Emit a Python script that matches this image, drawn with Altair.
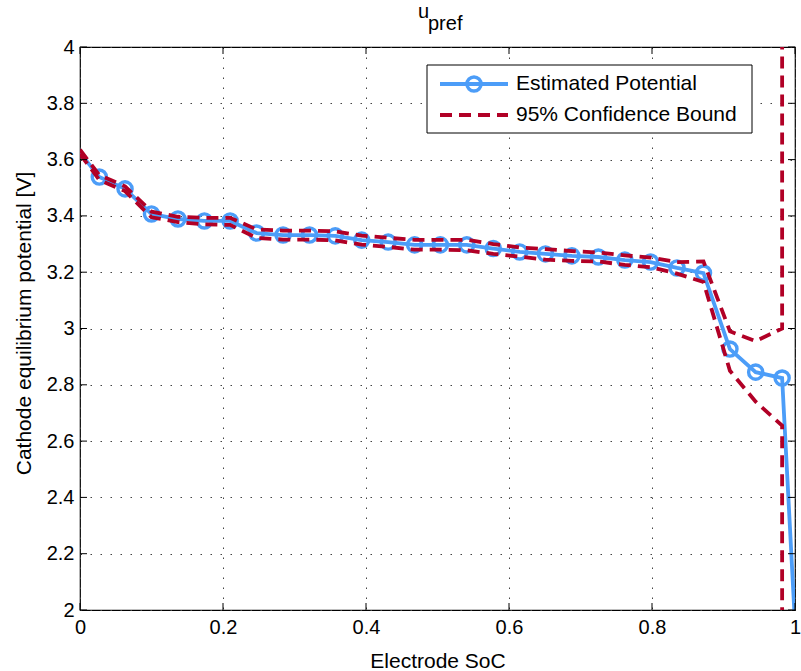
import altair as alt
import pandas as pd

# ---- data ----
est_soc = [0.0, 0.027, 0.063, 0.100, 0.137, 0.174, 0.210, 0.247, 0.284, 0.321, 0.357,
           0.394, 0.431, 0.468, 0.504, 0.541, 0.578, 0.615, 0.651, 0.688, 0.725,
           0.762, 0.798, 0.835, 0.872, 0.909, 0.945, 0.982, 1.0]
est_v = [3.625, 3.538, 3.496, 3.407, 3.389, 3.382, 3.382, 3.339, 3.332, 3.332, 3.329,
         3.314, 3.307, 3.297, 3.297, 3.297, 3.284, 3.272, 3.265, 3.258, 3.254,
         3.243, 3.236, 3.215, 3.197, 2.927, 2.845, 2.824, 1.95]
marker_soc = est_soc[1:28]
marker_v = est_v[1:28]

up_soc = [0.0, 0.027, 0.063, 0.100, 0.137, 0.174, 0.210, 0.247, 0.284, 0.321, 0.357,
          0.394, 0.431, 0.468, 0.504, 0.541, 0.578, 0.615, 0.651, 0.688, 0.725,
          0.762, 0.798, 0.835, 0.872, 0.909, 0.945, 0.982, 0.982]
up_v = [3.635, 3.545, 3.505, 3.415, 3.397, 3.393, 3.393, 3.352, 3.348, 3.348, 3.345,
        3.330, 3.322, 3.315, 3.315, 3.315, 3.300, 3.288, 3.282, 3.275, 3.270,
        3.260, 3.252, 3.236, 3.238, 2.990, 2.955, 3.000, 4.5]
lo_soc = up_soc
lo_v = [3.620, 3.528, 3.488, 3.395, 3.378, 3.370, 3.368, 3.322, 3.316, 3.316, 3.313,
        3.298, 3.290, 3.280, 3.280, 3.278, 3.265, 3.255, 3.245, 3.240, 3.238,
        3.226, 3.218, 3.195, 3.165, 2.850, 2.740, 2.655, 1.5]

x_ticks = [0, 0.2, 0.4, 0.6, 0.8, 1.0]
y_ticks = [2.0, 2.2, 2.4, 2.6, 2.8, 3.0, 3.2, 3.4, 3.6, 3.8, 4.0]

series_names = ["Estimated Potential", "95% Confidence Bound"]
title_main = "u"
title_sub = "pref"
x_title = "Electrode SoC"
y_title = "Cathode equilibrium potential [V]"

BLUE = "#4C9DF8"
RED = "#B10026"
FONT = "Liberation Sans"
W, H = 715, 563

est_df = pd.DataFrame({"soc": est_soc, "v": est_v, "i": range(len(est_soc))})
mk_df = pd.DataFrame({"soc": marker_soc, "v": marker_v})
bound_df = pd.concat([
    pd.DataFrame({"soc": up_soc, "v": up_v, "b": "upper", "i": range(len(up_soc))}),
    pd.DataFrame({"soc": lo_soc, "v": lo_v, "b": "lower", "i": range(len(lo_soc))}),
])

xs = alt.Scale(domain=[0, 1], nice=False, zero=False)
ys = alt.Scale(domain=[2, 4], nice=False, zero=False)

x_axis = alt.Axis(values=x_ticks, format=".1~f", grid=True, gridDash=[1.5, 8.5],
                  gridColor="#444", gridWidth=1, domain=False, ticks=False,
                  labelFontSize=20, labelPadding=7, labelFlush=False, labelColor="black",
                  labelFont=FONT, title=x_title, titleFont=FONT, titleFontSize=21,
                  titleFontWeight="normal", titleColor="black", titleBaseline="alphabetic",
                  titleY=57)
y_axis = alt.Axis(values=y_ticks, format=".1~f", grid=True, gridDash=[1.5, 8.5],
                  gridColor="#444", gridWidth=1, domain=False, ticks=False,
                  labelFontSize=20, labelPadding=6, labelFlush=False, labelColor="black",
                  labelFont=FONT, title=y_title, titleFont=FONT, titleFontSize=21,
                  titleFontWeight="normal", titleColor="black", titleBaseline="middle",
                  titleX=-56, titleY=276)

est_line = alt.Chart(est_df).mark_line(color=BLUE, strokeWidth=3.8, clip=True).encode(
    x=alt.X("soc:Q", scale=xs, axis=x_axis),
    y=alt.Y("v:Q", scale=ys, axis=y_axis),
    order="i:Q",
)
est_pts = alt.Chart(mk_df).mark_point(shape="circle", size=200, filled=False,
                                      color=BLUE, strokeWidth=3.4, opacity=1, clip=True).encode(
    x=alt.X("soc:Q", scale=xs, axis=None),
    y=alt.Y("v:Q", scale=ys, axis=None),
)
bounds = alt.Chart(bound_df).mark_line(color=RED, strokeWidth=3.8, strokeDash=[12, 7],
                                       clip=True).encode(
    x=alt.X("soc:Q", scale=xs, axis=None),
    y=alt.Y("v:Q", scale=ys, axis=None),
    detail="b:N",
    order="i:Q",
)

# inward tick marks on all four sides (MATLAB style)
xt_df = pd.DataFrame({"t": x_ticks})
yt_df = pd.DataFrame({"t": y_ticks})
tick_style = dict(color="black", strokeWidth=1)
xt_bot = alt.Chart(xt_df).mark_rule(**tick_style).encode(
    x=alt.X("t:Q", scale=xs, axis=None), y=alt.value(H), y2=alt.value(H - 7))
xt_top = alt.Chart(xt_df).mark_rule(**tick_style).encode(
    x=alt.X("t:Q", scale=xs, axis=None), y=alt.value(0), y2=alt.value(7))
yt_left = alt.Chart(yt_df).mark_rule(**tick_style).encode(
    y=alt.Y("t:Q", scale=ys, axis=None), x=alt.value(0), x2=alt.value(7))
yt_right = alt.Chart(yt_df).mark_rule(**tick_style).encode(
    y=alt.Y("t:Q", scale=ys, axis=None), x=alt.value(W), x2=alt.value(W - 7))

# legend
one = pd.DataFrame({"a": [0]})
leg_box = alt.Chart(one).mark_rect(fill="white", stroke="black", strokeWidth=1).encode(
    x=alt.value(347), x2=alt.value(672), y=alt.value(18), y2=alt.value(86))
leg_blue = alt.Chart(one).mark_rule(color=BLUE, strokeWidth=3.8).encode(
    x=alt.value(360), x2=alt.value(428), y=alt.value(37))
leg_circle = alt.Chart(one).mark_point(shape="circle", size=200, filled=False, color=BLUE,
                                       strokeWidth=3.4, opacity=1).encode(
    x=alt.value(394), y=alt.value(37))
leg_red = alt.Chart(one).mark_rule(color=RED, strokeWidth=3.8, strokeDash=[12, 7]).encode(
    x=alt.value(360), x2=alt.value(428), y=alt.value(68))
leg_df = pd.DataFrame({"name": series_names, "yy": [37, 68]})
leg_text = alt.Chart(leg_df).mark_text(align="left", baseline="middle", font=FONT,
                                       fontSize=21, color="black").encode(
    x=alt.value(436), y=alt.Y("yy:Q", scale=None), text="name:N")

# title with subscript
title_df = pd.DataFrame({"txt": [title_main, title_sub], "tx": [338, 348], "ty": [-29, -17]})
title_txt = alt.Chart(title_df).mark_text(align="left", baseline="alphabetic", font=FONT,
                                          fontSize=20, color="black").encode(
    x=alt.X("tx:Q", scale=None), y=alt.Y("ty:Q", scale=None), text="txt:N")

chart = alt.layer(
    est_line, est_pts, bounds,
    xt_bot, xt_top, yt_left, yt_right,
    leg_box, leg_blue, leg_circle, leg_red, leg_text,
    title_txt,
).resolve_axis(
    x="independent", y="independent"
).properties(
    width=W, height=H,
    autosize=alt.AutoSizeParams(type="none"),
    padding={"left": 80, "top": 47, "right": 6, "bottom": 61},
).configure(
    background="white"
).configure_view(
    stroke="black", strokeWidth=1.2
)

chart.save("out.html", embed_options={"renderer": "svg", "actions": False})
